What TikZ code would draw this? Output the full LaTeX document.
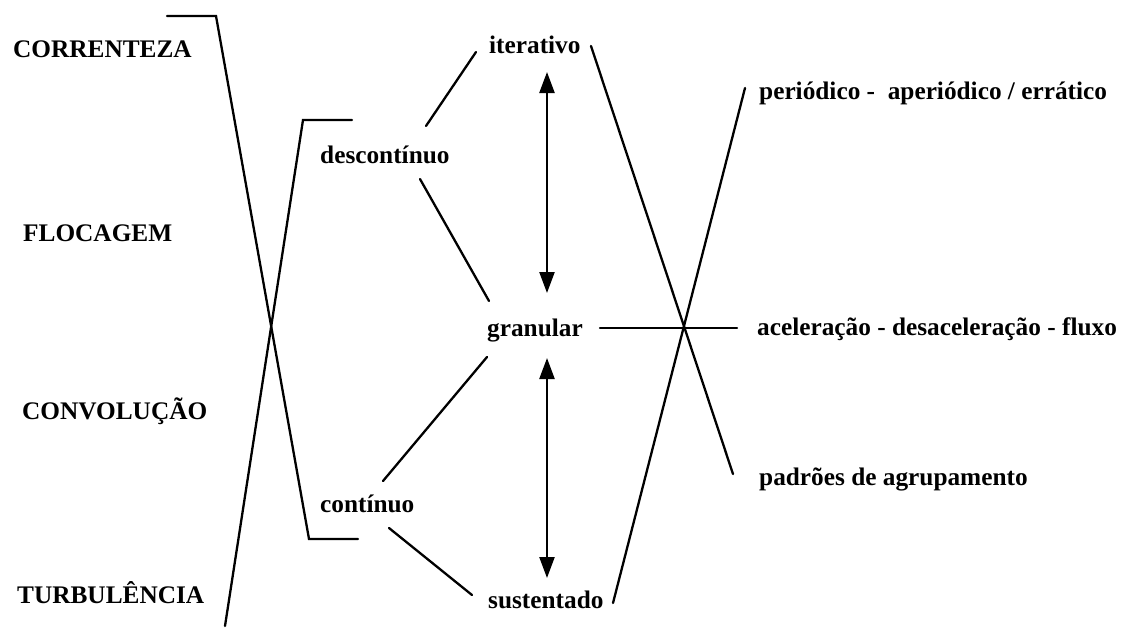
\documentclass[tikz,border=0pt]{standalone}
\usepackage{fontspec}
\setmainfont{Liberation Serif}
\usetikzlibrary{arrows.meta}
\tikzset{
  lbl/.style={font=\fontsize{25.3}{30}\selectfont\bfseries, inner sep=0pt, anchor=base west},
  link/.style={line width=2.3pt, line cap=round, line join=miter},
  dbl/.style={line width=2.3pt, {Triangle[length=21pt,width=15pt]}-{Triangle[length=21pt,width=15pt]}}
}
\begin{document}
\begin{tikzpicture}[x=1pt,y=-1pt]
\useasboundingbox (0,0) rectangle (1121,627);

% left column of terms
\node[lbl] (corr) at (13,57)  {CORRENTEZA};
\node[lbl] (floc) at (23,241) {FLOCAGEM};
\node[lbl] (conv) at (22,419) {CONVOLUÇÃO};
\node[lbl] (turb) at (17,603) {TURBULÊNCIA};

% middle terms
\node[lbl] (desc) at (320,163) {descontínuo};
\node[lbl] (cont) at (320,512) {contínuo};
\node[lbl] (iter) at (489,53)  {iterativo};
\node[lbl] (gran) at (487,336) {granular};
\node[lbl] (sust) at (488,608) {sustentado};

% right column
\node[lbl] (peri) at (759,99)  {periódico -\ \ aperiódico / errático};
\node[lbl] (acel) at (757,335) {aceleração - desaceleração - fluxo};
\node[lbl] (padr) at (759,485) {padrões de agrupamento};

% crossing brackets on the left
\coordinate (b1a) at (167,16);
\coordinate (b1b) at (216,16);
\coordinate (b1c) at (309,539);
\coordinate (b1d) at (358,539);
\coordinate (b2a) at (352,120);
\coordinate (b2b) at (303,120);
\coordinate (b2c) at (225,626);
\draw[link] (b1a) -- (b1b) -- (b1c) -- (b1d);
\draw[link] (b2a) -- (b2b) -- (b2c);

% links between the middle terms
\coordinate (di1) at (426,126); \coordinate (di2) at (476,52);
\coordinate (dg1) at (420,179); \coordinate (dg2) at (489,301);
\coordinate (gc1) at (487,357); \coordinate (gc2) at (383,481);
\coordinate (cs1) at (389,528); \coordinate (cs2) at (472,595);
\draw[link] (di1) -- (di2);
\draw[link] (dg1) -- (dg2);
\draw[link] (gc1) -- (gc2);
\draw[link] (cs1) -- (cs2);

% two-headed arrows
\coordinate (a1t) at (547,72);  \coordinate (a1b) at (547,293);
\coordinate (a2t) at (547,358); \coordinate (a2b) at (547,578);
\draw[dbl] (a1t) -- (a1b);
\draw[dbl] (a2t) -- (a2b);

% crossing on the right
\coordinate (ip1) at (591,46);  \coordinate (ip2) at (733,474);
\coordinate (sp1) at (613,603); \coordinate (sp2) at (745,88);
\coordinate (ga1) at (600,328); \coordinate (ga2) at (737,328);
\draw[link] (ip1) -- (ip2);
\draw[link] (sp1) -- (sp2);
\draw[link] (ga1) -- (ga2);
\end{tikzpicture}
\end{document}
